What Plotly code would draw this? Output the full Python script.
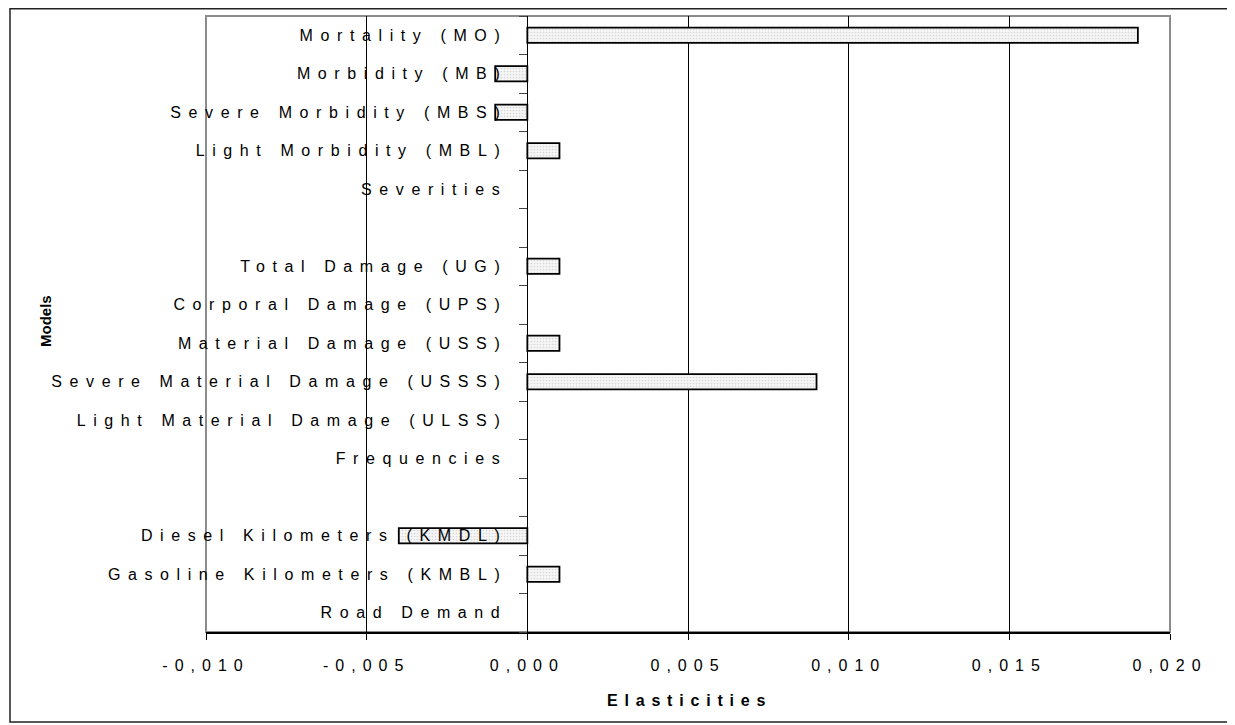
import plotly.graph_objects as go

# ---- data ----
categories = [
    "Mortality (MO)", "Morbidity (MB)", "Severe Morbidity (MBS)", "Light Morbidity (MBL)",
    "Severities", "",
    "Total Damage (UG)", "Corporal Damage (UPS)", "Material Damage (USS)",
    "Severe Material Damage (USSS)", "Light Material Damage (ULSS)", "Frequencies", "",
    "Diesel Kilometers (KMDL)", "Gasoline Kilometers (KMBL)", "Road Demand",
]
elasticities = [0.019, -0.001, -0.001, 0.001, None, None,
                0.001, None, 0.001, 0.009, None, None, None,
                -0.004, 0.001, None]
x_tick_values = [-0.010, -0.005, 0.000, 0.005, 0.010, 0.015, 0.020]
x_tick_labels = ["-0,010", "-0,005", "0,000", "0,005", "0,010", "0,015", "0,020"]
x_title = "Elasticities"
y_title = "Models"

FONT = "Arial, Liberation Sans, sans-serif"

def spaced(s, ls):
    return f'<span style="letter-spacing:{ls}px">{s}</span>' if s else ""

positions = list(range(len(categories)))

# page body has an 8px margin -> figure coordinates are screen - 8
W, H = 1227, 717
L, T, PW, PH = 198, 8, 964, 616
R, B = W - L - PW, H - T - PH

def px(xs):  # figure pixel x -> paper
    return (xs - L) / PW

def py(ys):  # figure pixel y -> paper
    return (T + PH - ys) / PH

fig = go.Figure()
fig.add_trace(go.Bar(
    x=elasticities, y=positions, orientation="h", width=0.4,
    marker=dict(color="#ebebeb",
                line=dict(color="black", width=1.8),
                pattern=dict(shape=".", fgcolor="#b8b8b8", bgcolor="#f6f6f6",
                             size=3, solidity=0.25)),
    hoverinfo="x+y", showlegend=False,
))

xmin, xmax = -0.010, 0.020
fig.update_layout(
    width=W, height=H,
    margin=dict(l=L, r=R, t=T, b=B),
    paper_bgcolor="white", plot_bgcolor="white",
    font=dict(family=FONT, size=16, color="black"),
    bargap=0.6,
    xaxis=dict(
        range=[xmin, xmax],
        tickvals=x_tick_values,
        ticktext=[spaced(t, 7) for t in x_tick_labels],
        ticks="outside", ticklen=6, tickcolor="black", tickwidth=1,
        ticklabelstandoff=12,
        showgrid=True, gridcolor="black", gridwidth=1,
        zeroline=True, zerolinecolor="black", zerolinewidth=1,
        showline=True, linecolor="black", linewidth=1.5,
        tickfont=dict(size=16, color="black"),
    ),
    yaxis=dict(
        range=[len(categories) - 0.5, -0.5],
        anchor="free", position=(0 - xmin) / (xmax - xmin),
        tickvals=positions,
        ticktext=[spaced(c, 7.6) for c in categories],
        ticks="", ticklabelstandoff=20,
        minor=dict(tickvals=[p - 0.5 for p in positions] + [len(categories) - 0.5],
                   ticks="outside", ticklen=8, tickcolor="#444", tickwidth=1,
                   showgrid=False),
        showgrid=False, zeroline=False, showline=False,
        tickfont=dict(size=16, color="black"),
    ),
    shapes=[
        # plot area border (gray)
        dict(type="rect", xref="paper", yref="paper", x0=0, y0=0, x1=1, y1=1,
             line=dict(color="#8c8c8c", width=2), layer="below"),
        # outer chart frame
        dict(type="rect", xref="paper", yref="paper",
             x0=px(2), x1=px(1225), y0=py(714), y1=py(0.8),
             line=dict(color="#222", width=1.5)),
    ],
    annotations=[
        dict(text="<b>" + spaced(x_title, 6.8) + "</b>", xref="paper", yref="paper",
             x=px(686 - 8 + 3), y=py(700 - 8), showarrow=False,
             xanchor="center", yanchor="middle", font=dict(size=16)),
        dict(text="<b>" + y_title + "</b>", xref="paper", yref="paper",
             x=px(45 - 8), y=py(321 - 8), showarrow=False, textangle=-90,
             xanchor="center", yanchor="middle", font=dict(size=15)),
    ],
)

fig.write_html("out.html")
